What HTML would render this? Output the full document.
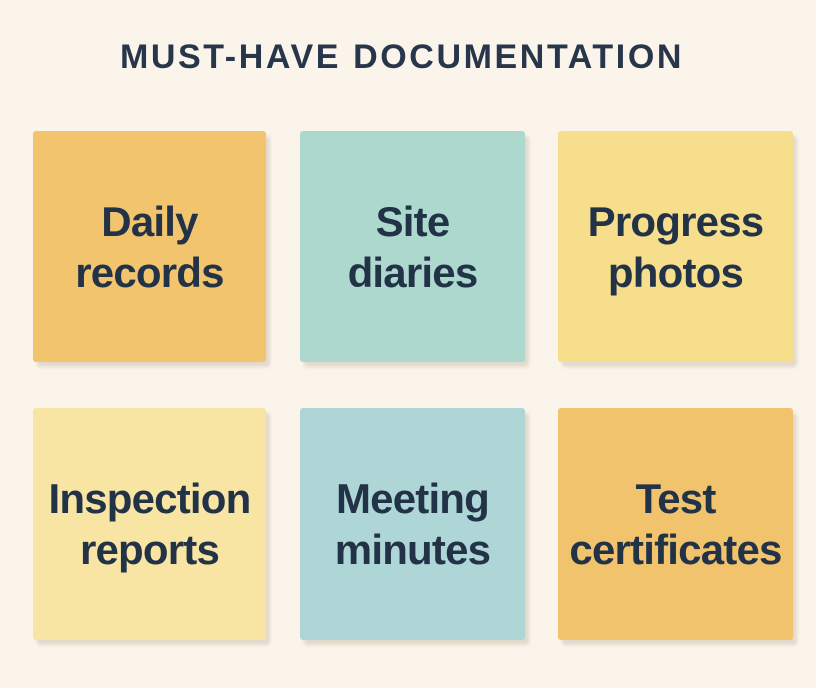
<!DOCTYPE html>
<html><head><meta charset="utf-8"><style>
html,body{margin:0;padding:0}
body{width:816px;height:688px;background:#fbf4ea;position:relative;overflow:hidden;font-family:"Liberation Sans",sans-serif;}
.t{position:absolute;top:38px;left:0;width:816px;text-align:center;font-weight:bold;font-size:34px;color:#27364a;letter-spacing:2.6px;}
.t span{position:relative;left:-6px}
.n{position:absolute;border-radius:3px;box-shadow:4px 5px 3px rgba(120,100,80,0.18);display:flex;align-items:center;justify-content:center;text-align:center;font-weight:bold;font-size:42px;line-height:51px;color:#223247;letter-spacing:-0.8px}
</style></head><body>
<div class="t"><span>MUST-HAVE DOCUMENTATION</span></div>
<div class="n" style="left:33px;top:131px;width:233px;height:231px;background:#f1c46d">Daily<br>records</div>
<div class="n" style="left:300px;top:131px;width:225px;height:231px;background:#acd8cd">Site<br>diaries</div>
<div class="n" style="left:558px;top:131px;width:235px;height:231px;background:#f7de8c">Progress<br>photos</div>
<div class="n" style="left:33px;top:408px;width:233px;height:232px;background:#f9e5a3">Inspection<br>reports</div>
<div class="n" style="left:300px;top:408px;width:225px;height:232px;background:#aed6d6">Meeting<br>minutes</div>
<div class="n" style="left:558px;top:408px;width:235px;height:232px;background:#f1c36c">Test<br>certificates</div>
</body></html>
